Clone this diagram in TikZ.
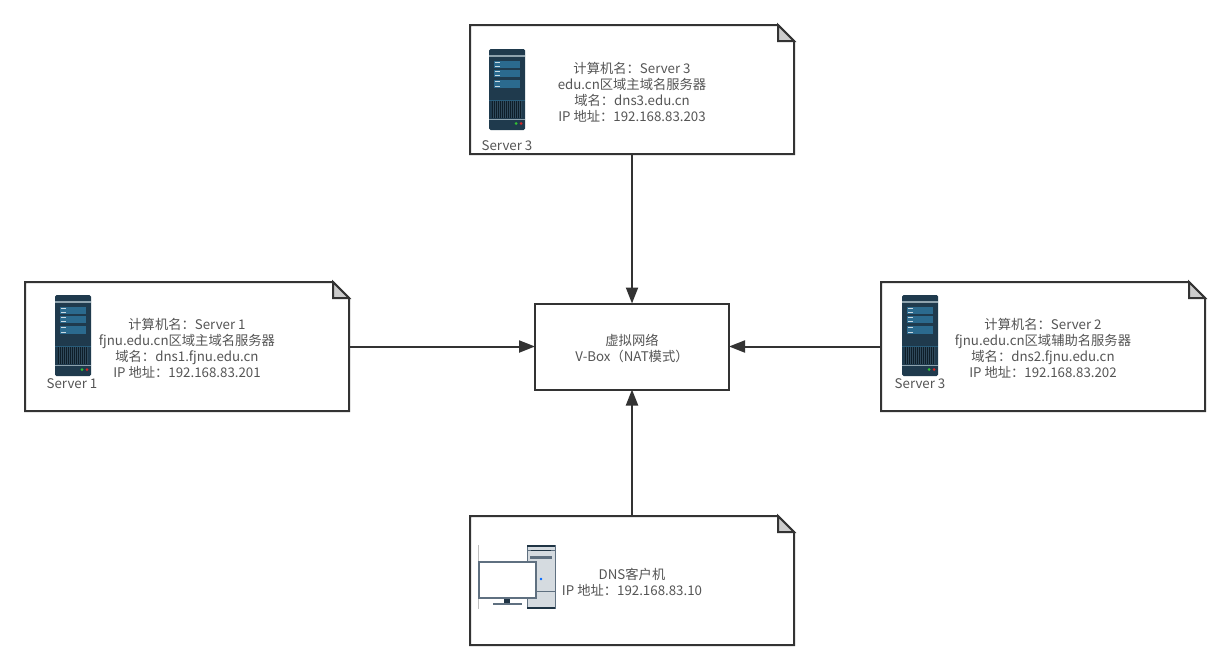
\documentclass[tikz,border=0pt]{standalone}
\usepackage{fontspec}
\setmainfont{Noto Sans CJK SC}
\usetikzlibrary{arrows.meta}
\definecolor{ink}{HTML}{333333}
\definecolor{txt}{HTML}{555555}
\definecolor{srvbody}{HTML}{1F3A4D}
\definecolor{srvband}{HTML}{8FA3AE}
\definecolor{srvrow}{HTML}{2B6A8E}
\definecolor{srvdark}{HTML}{0E1E29}
\definecolor{pcline}{HTML}{5F7080}
\definecolor{pcfill}{HTML}{D5DBE0}
\definecolor{pcdark}{HTML}{1F3444}
\tikzset{
  notebox/.style={rectangle,minimum width=324pt,minimum height=129pt,outer sep=0pt,inner sep=0pt},
  hubbox/.style={rectangle,draw=ink,line width=2pt,minimum width=194pt,minimum height=86pt,outer sep=0pt,inner sep=0pt,fill=white},
  lbl/.style={text=txt,align=center,inner sep=0pt,font=\fontsize{13.3}{16}\selectfont},
  link/.style={draw=ink,line width=2pt,-{Triangle[length=16pt,width=12pt]}},
  server/.pic={
    \fill[srvbody,rounded corners=1.5pt] (0,0) rectangle (36,81);
    \fill[srvband] (0,6) rectangle (36,7.5);
    \foreach \ya/\yb in {12/19,21/28,31/39}{
      \fill[srvrow] (5,\ya) rectangle (31,\yb);
      \fill[white!75!srvrow] (6,\ya+1) rectangle (11,\ya+2.3);
      \fill[white!75!srvrow] (6,\yb-2.3) rectangle (11,\yb-1);
    }
    \fill[srvrow!70!srvbody] (0,50.5) rectangle (36,52);
    \fill[srvdark] (3,52) rectangle (33,69);
    \foreach \i in {0,...,14}{\fill[srvbody!85!srvband] (3.6+2*\i,52) rectangle (4.2+2*\i,69);}
    \fill[srvband] (0,69.5) rectangle (36,71);
    \fill[green!70!black!80!white] (27,74.5) circle (1.5);
    \fill[red!80!black!85!white] (32,74.5) circle (1.5);
  },
  desktop/.pic={
    \draw[black!25,line width=.7pt] (0,0) -- (0,64);
    \fill[pcfill,draw=pcline,line width=1pt] (49,0.5) rectangle (77,63.5);
    \fill[pcdark] (49,0) rectangle (77,1.5);
    \fill[pcdark] (49,61.5) rectangle (77,64);
    \fill[pcline] (49,4.5) rectangle (77,6);
    \fill[pcdark] (53,4.5) rectangle (73,6);
    \fill[pcline] (52,11) rectangle (74,14);
    \draw[pcline,line width=.8pt] (49,46) -- (77,46);
    \fill[blue!60!cyan] (63,34) circle (1.4);
    \fill[pcdark] (26,52) rectangle (32,58);
    \fill[pcline] (15,58) rectangle (44,59.5);
    \fill[white,draw=pcline,line width=1.2pt] (1,17) rectangle (58,53);
  }
}
\newcommand{\notefold}[1]{%
  \draw[ink,line width=2pt,line join=miter,fill=white]
    (#1.north west) -- ([xshift=-16pt]#1.north east) -- ([yshift=-16pt]#1.north east)
    -- (#1.south east) -- (#1.south west) -- cycle;
  \draw[ink,line width=2pt,line join=miter,fill=black!20]
    ([xshift=-16pt]#1.north east) -- ([yshift=-16pt]#1.north east)
    -- ([xshift=-16pt,yshift=-16pt]#1.north east) -- cycle;
}
\begin{document}
\begin{tikzpicture}[x=1pt,y=-1pt]
\useasboundingbox (0,0) rectangle (1230,670);
\fill[white] (0,0) rectangle (1230,670);

\node[notebox] (top)   at (632,89.5) {};
\node[notebox] (left)  at (187,346.5) {};
\node[notebox] (right) at (1043,346.5) {};
\node[notebox] (bot)   at (632,580.5) {};
\node[hubbox]  (hub)   at (632,346.5) {};

\draw[link] (top.south) -- (hub.north);
\draw[link] (bot.north) -- (hub.south);
\draw[link] (left.east) -- (hub.west);
\draw[link] (right.west) -- (hub.east);

\notefold{top}
\notefold{left}
\notefold{right}
\notefold{bot}

\pic at (489,49) {server};
\pic at (55,295) {server};
\pic at (902,295) {server};
\pic at (478,545) {desktop};

\node[lbl] (t3) at (632,92) {计算机名：Server 3\\edu.cn区域主域名服务器\\域名：dns3.edu.cn\\IP 地址：192.168.83.203};
\node[lbl] (t1) at (187,348) {计算机名：Server 1\\fjnu.edu.cn区域主域名服务器\\域名：dns1.fjnu.edu.cn\\IP 地址：192.168.83.201};
\node[lbl] (t2) at (1043,348) {计算机名：Server 2\\fjnu.edu.cn区域辅助名服务器\\域名：dns2.fjnu.edu.cn\\IP 地址：192.168.83.202};
\node[lbl] (t4) at (632,582) {DNS客户机\\IP 地址：192.168.83.10};
\node[lbl] (th) at (632,348) {虚拟网络\\V-Box（NAT模式）};

\node[lbl] (s3) at (507,146) {Server 3};
\node[lbl] (s1) at (72,384) {Server 1};
\node[lbl] (s2) at (920,384) {Server 3};
\end{tikzpicture}
\end{document}
